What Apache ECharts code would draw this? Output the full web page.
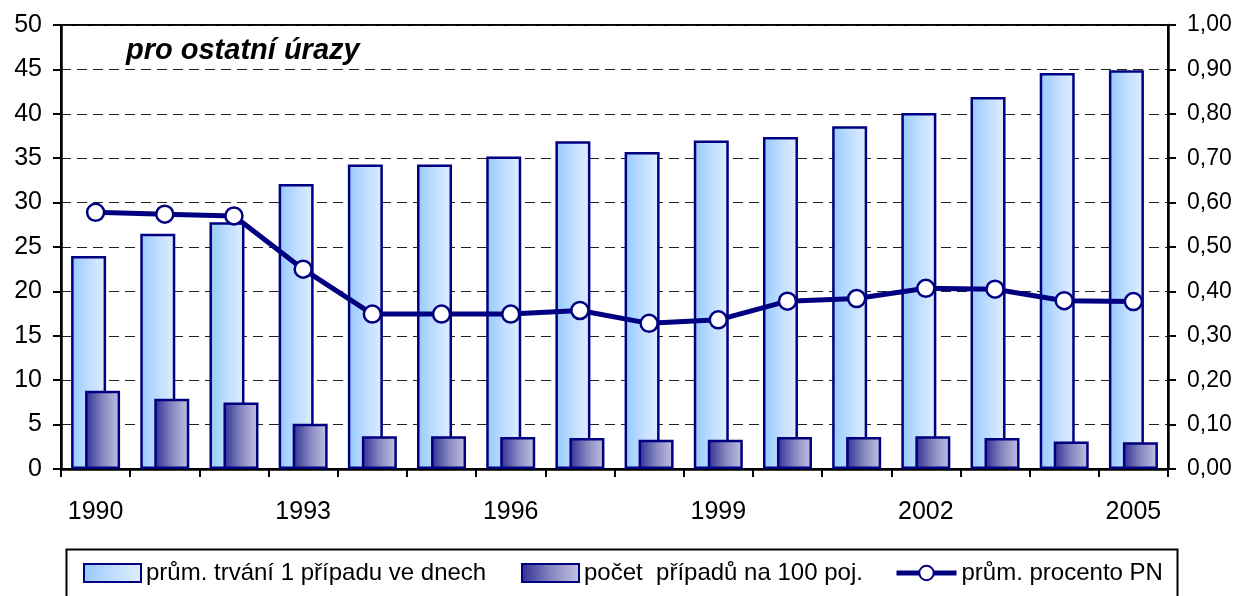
<!DOCTYPE html>
<html>
<head>
<meta charset="UTF-8">
<title></title>
<script src="https://cdn.jsdelivr.net/npm/echarts@6/dist/echarts.min.js"></script>
<style>
	html, body { margin: 0; padding: 0; background: #fff; }
	#main { width: 1239px; height: 596px; }
</style>
</head>
<body>
<div id="main"></div>
<script>
var years = ['1990', '1991', '1992', '1993', '1994', '1995', '1996', '1997', '1998', '1999', '2000', '2001', '2002', '2003', '2004', '2005'];
// průměrná doba trvání 1 případu (dny)
var trvani = [24.0, 26.5, 27.8, 32.1, 34.3, 34.3, 35.2, 36.9, 35.7, 37.0, 37.4, 38.6, 40.1, 41.9, 44.6, 44.9];
// počet případů na 100 pojištěnců
var pocet = [8.8, 7.9, 7.5, 5.1, 3.7, 3.7, 3.6, 3.5, 3.3, 3.3, 3.6, 3.6, 3.7, 3.5, 3.1, 3.0];
// průměrné procento PN
var procento = [0.578, 0.574, 0.570, 0.450, 0.349, 0.349, 0.349, 0.357, 0.328, 0.336, 0.378, 0.384, 0.407, 0.405, 0.379, 0.377];
var names = ['prům. trvání 1 případu ve dnech', 'počet  případů na 100 poj.', 'prům. procento PN'];

var font = "'Liberation Sans', Arial, sans-serif";
var navy = '#000080';
var legendText = { fontSize: 24, fontFamily: font, color: '#000' };

var myChart = echarts.init(document.getElementById('main'));
var option = {
	animation: false,
	textStyle: { fontFamily: font, color: '#000' },
	grid: {
		left: 61, right: 71, top: 25, bottom: 127,
		show: true, borderColor: '#000', borderWidth: 2
	},
	graphic: [{
		type: 'text', left: 126, top: 36,
		style: { text: 'pro ostatní úrazy', font: 'italic bold 29px ' + font, fill: '#000' }
	}, {
		type: 'rect', left: 64, top: 547,
		shape: { width: 1111, height: 60 },
		style: { fill: 'none', stroke: '#000', lineWidth: 2 }
	}],
	legend: [{
		data: [names[0]], left: 83, top: 561, padding: 0,
		icon: 'rect', itemWidth: 57, itemHeight: 18,
		textStyle: legendText
	}, {
		data: [names[1]], left: 521, top: 561, padding: 0,
		icon: 'rect', itemWidth: 57, itemHeight: 18,
		textStyle: legendText
	}, {
		data: [names[2]], left: 894, top: 561, padding: 0,
		itemWidth: 60, itemHeight: 18,
		lineStyle: { width: 5 },
		textStyle: legendText
	}],
	xAxis: [{
		type: 'category',
		data: years,
		axisLine: { lineStyle: { color: '#000', width: 2.5 } },
		axisTick: { show: true, interval: 0, length: 8, lineStyle: { color: '#000', width: 2 } },
		axisLabel: { interval: 2, fontSize: 25, margin: 31, color: '#000' }
	}],
	yAxis: [{
		type: 'value', min: 0, max: 50, interval: 5,
		axisLine: { show: true, lineStyle: { color: '#000', width: 2.5 } },
		axisTick: { show: true, length: 8, lineStyle: { color: '#000', width: 2 } },
		axisLabel: { fontSize: 25, margin: 19, color: '#000' },
		splitLine: { show: true, lineStyle: { type: [10, 6], color: '#222', width: 1 } }
	}, {
		type: 'value', min: 0, max: 1, interval: 0.1,
		axisLine: { show: true, lineStyle: { color: '#000', width: 2.5 } },
		axisTick: { show: true, length: 8, lineStyle: { color: '#000', width: 2 } },
		axisLabel: {
			fontSize: 23, margin: 19, color: '#000',
			formatter: function (v) { return v.toFixed(2).replace('.', ','); }
		},
		splitLine: { show: false }
	}],
	series: [{
		name: names[0],
		type: 'bar',
		barWidth: 35,
		barGap: '-60%',
		itemStyle: {
			borderColor: navy, borderWidth: 2.5,
			color: new echarts.graphic.LinearGradient(0, 0, 1, 0, [
				{ offset: 0, color: '#94c9ff' },
				{ offset: 0.5, color: '#c0ddff' },
				{ offset: 1, color: '#e0eeff' }
			])
		},
		data: trvani
	}, {
		name: names[1],
		type: 'bar',
		barWidth: 35,
		itemStyle: {
			borderColor: navy, borderWidth: 2.5,
			color: new echarts.graphic.LinearGradient(0, 0, 1, 0, [
				{ offset: 0, color: '#2e2e94' },
				{ offset: 0.5, color: '#8686c0' },
				{ offset: 1, color: '#c4c4e2' }
			])
		},
		data: pocet
	}, {
		name: names[2],
		type: 'line',
		yAxisIndex: 1,
		symbol: 'circle',
		symbolSize: 17,
		z: 5,
		lineStyle: { color: navy, width: 5 },
		itemStyle: { color: '#fff', borderColor: navy, borderWidth: 2.5 },
		data: procento
	}]
};
myChart.setOption(option);
</script>
</body>
</html>
